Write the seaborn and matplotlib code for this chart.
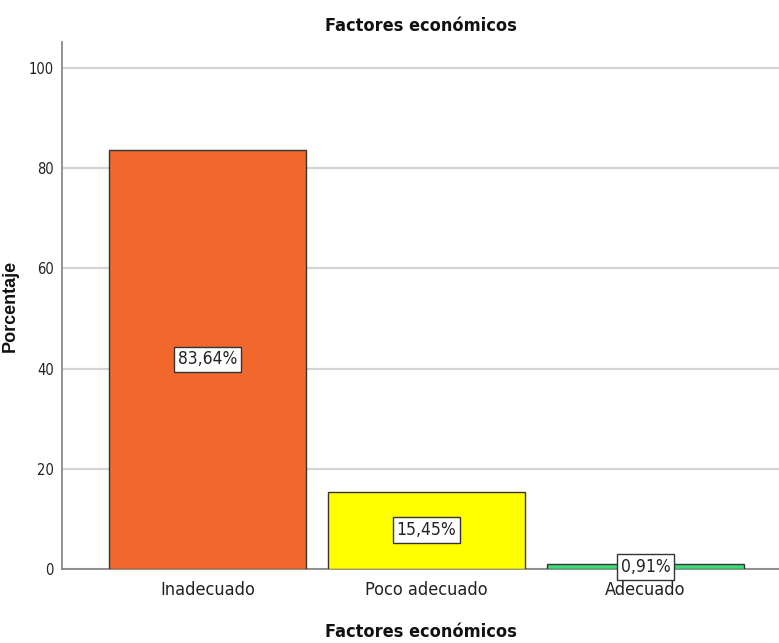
import matplotlib
matplotlib.use("Agg")
import matplotlib.pyplot as plt
import seaborn as sns
import pandas as pd

categories = ["Inadecuado", "Poco adecuado", "Adecuado"]
percentages = [83.64, 15.45, 0.91]
value_labels = ["83,64%", "15,45%", "0,91%"]
bar_colors = ["#F2682C", "#FFFF00", "#3DDB78"]
y_ticks = [0, 20, 40, 60, 80, 100]

sns.set_style("white")
plt.rcParams["font.family"] = ["DejaVu Sans"]
plt.rcParams["font.stretch"] = "condensed"

df = pd.DataFrame({"cat": categories, "pct": percentages})

fig = plt.figure(figsize=(7.79, 6.43), dpi=100)
ax = fig.add_axes([0.0796, 0.1151, 0.9204, 0.8196])

sns.barplot(data=df, x="cat", y="pct", hue="cat", palette=bar_colors,
            saturation=1, width=0.9, edgecolor="#333333", linewidth=1.0,
            legend=False, ax=ax, zorder=3)

ax.set_xlim(-0.664, 2.61)
ax.set_ylim(0, 105.2)
ax.set_yticks(y_ticks)
ax.yaxis.grid(True, color="#d4d4d4", linewidth=1.6, zorder=0)
ax.set_axisbelow(True)

for s in ["top", "right"]:
    ax.spines[s].set_visible(False)
for s in ["left", "bottom"]:
    ax.spines[s].set_color("#808080")
    ax.spines[s].set_linewidth(1.2)

ax.tick_params(axis="y", length=4, width=1, color="#808080", labelsize=10.5,
               labelcolor="#222222", pad=2)
ax.tick_params(axis="x", length=0, labelsize=13, labelcolor="#222222", pad=9)

for i, (v, lab) in enumerate(zip(percentages, value_labels)):
    ax.text(i, v / 2, lab, ha="center", va="center", fontsize=12.5,
            color="#222222", zorder=5,
            bbox=dict(boxstyle="square,pad=0.22", facecolor="white",
                      edgecolor="#333333", linewidth=1.0))

ax.set_title("Factores económicos", fontsize=13, fontweight="bold",
             color="#111111", pad=8)
ax.set_xlabel("Factores económicos", fontsize=13, fontweight="bold",
              color="#111111", va="center")
ax.xaxis.set_label_coords(0.5, -0.12)
ax.set_ylabel("Porcentaje", fontsize=13, fontweight="bold", color="#111111",
              family="Liberation Sans", stretch="normal")
ax.yaxis.set_label_coords(-0.06, 0.5)

fig.savefig("out.png", dpi=100)
